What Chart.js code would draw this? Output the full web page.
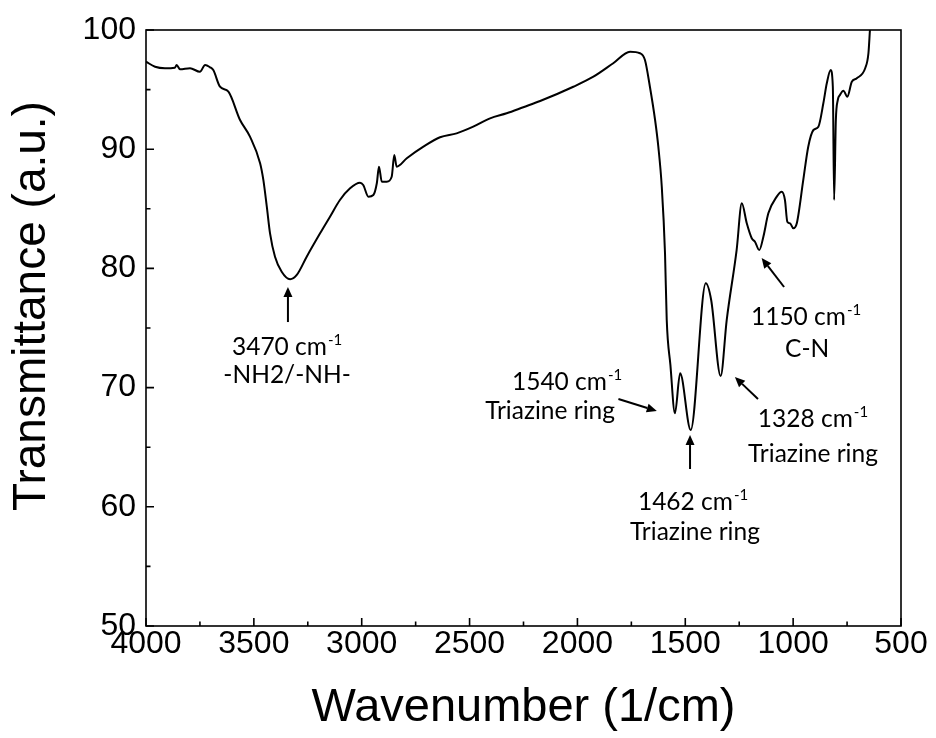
<!DOCTYPE html>
<html lang="en">
<head>
    <meta charset="UTF-8">
    <title>FTIR spectrum</title>
    <script src="https://cdn.jsdelivr.net/npm/chart.js"></script>
    <style>
        html, body {
            margin: 0;
            padding: 0;
            background: #fff;
        }
        .chart-box {
            width: 936px;
            height: 738px;
        }
    </style>
</head>
<body>
    <div class="chart-box">
        <canvas id="ftirChart"></canvas>
    </div>

    <script>
        // Spectrum: wavenumber (1/cm) and transmittance (a.u.)
        const wavenumber = [
            4000, 3958, 3912, 3866, 3858, 3842, 3796, 3750, 3726, 3703, 3688, 3657,
            3618, 3564, 3518, 3471, 3456, 3440, 3425, 3402, 3371, 3332, 3301, 3255,
            3193, 3147, 3101, 3054, 3008, 2993, 2969, 2946, 2930, 2920, 2907, 2884,
            2861, 2849, 2838, 2791, 2714, 2637, 2560, 2483, 2405, 2328, 2251, 2173,
            2019, 1926, 1834, 1756, 1710, 1687, 1664, 1640, 1625, 1609, 1594, 1586,
            1569, 1548, 1524, 1475, 1405, 1380, 1336, 1308, 1262, 1238, 1215, 1192,
            1177, 1157, 1138, 1115, 1076, 1053, 1038, 1027, 1014, 999, 983, 953,
            930, 906, 883, 860, 844, 826, 816, 810, 802, 793, 783, 767,
            749, 728, 705, 666, 651, 644
        ];
        const transmittance = [
            97.34, 96.92, 96.79, 96.84, 97.06, 96.70, 96.79, 96.50, 97.06, 96.87, 96.64, 95.24,
            94.82, 92.45, 91.05, 88.82, 87.42, 85.18, 82.94, 80.98, 79.72, 79.09, 79.45, 80.98,
            82.94, 84.34, 85.74, 86.72, 87.19, 87.00, 86.02, 86.16, 87.14, 88.53, 87.27, 87.27,
            87.69, 89.51, 88.53, 89.24, 90.21, 91.00, 91.33, 91.89, 92.59, 93.01, 93.52, 94.04,
            95.24, 96.08, 97.21, 98.18, 98.05, 97.48, 95.24, 92.45, 90.21, 86.85, 81.27, 75.67,
            71.90, 67.84, 71.20, 66.44, 78.75, 77.35, 70.97, 75.67, 81.54, 85.46, 83.78, 82.53,
            82.24, 81.54, 82.66, 84.62, 86.02, 86.43, 85.74, 83.92, 83.78, 83.36, 83.78, 87.42,
            90.21, 91.61, 91.89, 93.85, 95.53, 96.64, 95.24, 85.74, 92.45, 94.13, 94.55, 94.91,
            94.40, 95.66, 95.95, 96.79, 98.05, 100.0
        ];

        const xTicks = [4000, 3500, 3000, 2500, 2000, 1500, 1000, 500];
        const yTicks = [50, 60, 70, 80, 90, 100];

        const xTitle = 'Wavenumber (1/cm)';
        const yTitle = 'Transmittance (a.u.)';

        // Peak labels, anchored in data units (text centre x, baseline y)
        const peakLabels = [
            { lines: [{ text: '3470 cm', sup: '-1', x: 3346, y: 72.73 },
                      { text: '-NH2/-NH-', x: 3346, y: 70.39 }],
              arrow: { from: [3342, 75.5], to: [3342, 78.44] } },
            { lines: [{ text: '1540 cm', sup: '-1', x: 2048, y: 69.80 },
                      { text: 'Triazine ring', x: 2127, y: 67.37 }],
              arrow: { from: [1810, 69.04], to: [1632, 68.04] } },
            { lines: [{ text: '1462 cm', sup: '-1', x: 1464, y: 59.73 },
                      { text: 'Triazine ring', x: 1455, y: 57.21 }],
              arrow: { from: [1478, 63.17], to: [1478, 66.02] } },
            { lines: [{ text: '1328 cm', sup: '-1', x: 908, y: 66.69 },
                      { text: 'Triazine ring', x: 908, y: 63.76 }],
              arrow: { from: [1163, 69.04], to: [1270, 70.89] } },
            { lines: [{ text: '1150 cm', sup: '-1', x: 940, y: 75.25 },
                      { text: 'C-N', x: 935, y: 72.57 }],
              arrow: { from: [1042, 78.44], to: [1146, 80.87] } }
        ];

        const axisFont = "'Liberation Sans', Arial, sans-serif";
        const noteFont = "Lato, 'Open Sans', sans-serif";

        // box frame plus inward ticks (major and minor)
        const frameAndTicks = {
            id: 'frameAndTicks',
            afterDatasetsDraw(chart) {
                const { ctx, chartArea: a, scales: { x, y } } = chart;
                ctx.save();
                ctx.strokeStyle = '#000';
                ctx.lineWidth = 1.6;
                ctx.strokeRect(a.left, a.top, a.right - a.left, a.bottom - a.top);
                ctx.beginPath();
                for (let v = 500; v <= 4000; v += 250) {
                    const px = x.getPixelForValue(v);
                    const len = v % 500 === 0 ? 8 : 4.5;
                    ctx.moveTo(px, a.bottom);
                    ctx.lineTo(px, a.bottom - len);
                }
                for (let v = 50; v <= 100; v += 5) {
                    const py = y.getPixelForValue(v);
                    const len = v % 10 === 0 ? 8 : 4.5;
                    ctx.moveTo(a.left, py);
                    ctx.lineTo(a.left + len, py);
                }
                ctx.stroke();
                ctx.restore();
            }
        };

        function drawArrow(ctx, x1, y1, x2, y2) {
            const ang = Math.atan2(y2 - y1, x2 - x1);
            const head = 10, half = 4.5;
            const bx = x2 - head * Math.cos(ang), by = y2 - head * Math.sin(ang);
            ctx.beginPath();
            ctx.moveTo(x1, y1);
            ctx.lineTo(bx, by);
            ctx.stroke();
            ctx.beginPath();
            ctx.moveTo(x2, y2);
            ctx.lineTo(bx + half * Math.sin(ang), by - half * Math.cos(ang));
            ctx.lineTo(bx - half * Math.sin(ang), by + half * Math.cos(ang));
            ctx.closePath();
            ctx.fill();
        }

        function drawLine(ctx, line, px, py) {
            ctx.font = '24.5px ' + noteFont;
            const w1 = ctx.measureText(line.text).width;
            let w2 = 0;
            if (line.sup) {
                ctx.font = '15px ' + noteFont;
                w2 = ctx.measureText(line.sup).width + 1;
            }
            const start = px - (w1 + w2) / 2;
            ctx.font = '24.5px ' + noteFont;
            ctx.fillText(line.text, start, py);
            if (line.sup) {
                ctx.font = '15px ' + noteFont;
                ctx.fillText(line.sup, start + w1 + 1, py - 10);
            }
        }

        const peakNotes = {
            id: 'peakNotes',
            afterDraw(chart) {
                const { ctx, scales: { x, y } } = chart;
                ctx.save();
                ctx.fillStyle = '#000';
                ctx.strokeStyle = '#000';
                ctx.lineWidth = 2;
                ctx.textAlign = 'left';
                ctx.textBaseline = 'alphabetic';
                peakLabels.forEach(p => {
                    p.lines.forEach(l => drawLine(ctx, l, x.getPixelForValue(l.x), y.getPixelForValue(l.y)));
                    drawArrow(ctx,
                        x.getPixelForValue(p.arrow.from[0]), y.getPixelForValue(p.arrow.from[1]),
                        x.getPixelForValue(p.arrow.to[0]), y.getPixelForValue(p.arrow.to[1]));
                });
                ctx.restore();
            }
        };

        // axis titles drawn by hand so the y one can sit a little above centre
        const axisTitles = {
            id: 'axisTitles',
            afterDraw(chart) {
                const { ctx, chartArea: a } = chart;
                ctx.save();
                ctx.fillStyle = '#000';
                ctx.font = '47px ' + axisFont;
                ctx.textAlign = 'center';
                ctx.textBaseline = 'alphabetic';
                ctx.fillText(xTitle, (a.left + a.right) / 2, chart.height - 17);
                ctx.translate(45, a.top + 276);
                ctx.rotate(-Math.PI / 2);
                ctx.font = '46px ' + axisFont;
                ctx.fillText(yTitle, 0, 0);
                ctx.restore();
            }
        };

        const points = wavenumber.map((w, i) => ({ x: w, y: transmittance[i] }));

        new Chart(document.getElementById('ftirChart'), {
            type: 'line',
            data: {
                datasets: [{
                    data: points,
                    borderColor: '#000',
                    borderWidth: 2,
                    pointRadius: 0,
                    fill: false,
                    cubicInterpolationMode: 'monotone'
                }]
            },
            options: {
                responsive: true,
                maintainAspectRatio: false,
                animation: false,
                layout: { padding: { top: 30, right: 35, bottom: 0, left: 0 } },
                plugins: {
                    legend: { display: false },
                    tooltip: { enabled: false }
                },
                scales: {
                    x: {
                        type: 'linear',
                        reverse: true,
                        min: 500,
                        max: 4000,
                        grid: { display: false, drawTicks: false },
                        border: { display: false },
                        afterBuildTicks: s => { s.ticks = xTicks.map(v => ({ value: v })); },
                        afterFit: s => { s.height = 112; },
                        ticks: {
                            color: '#000',
                            padding: 2,
                            maxRotation: 0,
                            callback: v => String(v),
                            font: { family: axisFont, size: 32, lineHeight: 1 }
                        }
                    },
                    y: {
                        min: 50,
                        max: 100,
                        grid: { display: false, drawTicks: false },
                        border: { display: false },
                        afterBuildTicks: s => { s.ticks = yTicks.map(v => ({ value: v })); },
                        afterFit: s => { s.width = 146; },
                        ticks: {
                            color: '#000',
                            padding: 10,
                            callback: v => String(v),
                            font: { family: axisFont, size: 32, lineHeight: 1 }
                        }
                    }
                }
            },
            plugins: [frameAndTicks, peakNotes, axisTitles]
        });
    </script>
</body>
</html>
